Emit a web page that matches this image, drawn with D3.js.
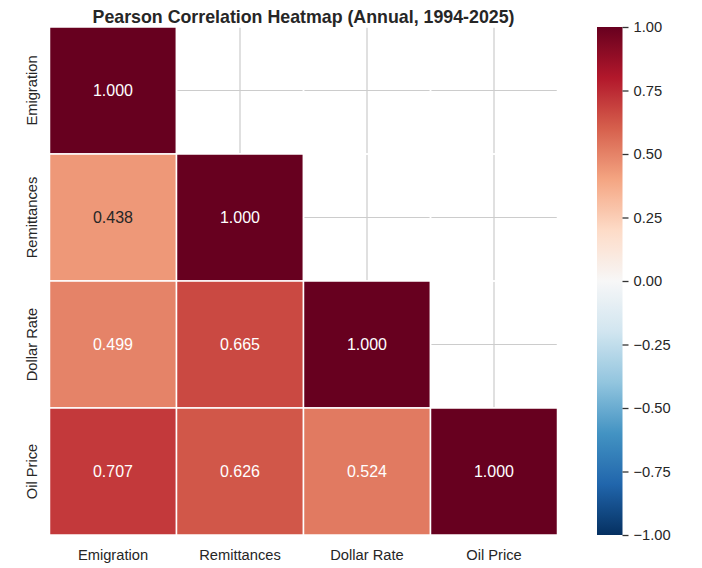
<!DOCTYPE html>
<html>
<head>
<meta charset="utf-8">
<script src="https://cdn.jsdelivr.net/npm/d3@7"></script>
<style>
  body { margin: 0; background: #fff; }
  svg { font-family: "Liberation Sans", Arial, sans-serif; }
</style>
</head>
<body>
<svg width="702" height="568"></svg>
<script>
// variables, in row/column order
const labels = ['Emigration', 'Remittances', 'Dollar Rate', 'Oil Price'];

// lower triangle of the correlation matrix, row by row
const rowEmigration = [1.000];
const rowRemittances = [0.438, 1.000];
const rowDollarRate = [0.499, 0.665, 1.000];
const rowOilPrice = [0.707, 0.626, 0.524, 1.000];

const colorbarTicks = [1.00, 0.75, 0.50, 0.25, 0.00, -0.25, -0.50, -0.75, -1.00];

// matplotlib RdBu_r stops
const rdbuStops = ['#053061', '#2166ac', '#4393c3', '#92c5de', '#d1e5f0', '#f7f7f7',
  '#fddbc7', '#f4a582', '#d6604d', '#b2182b', '#67001f'];

const rows = [rowEmigration, rowRemittances, rowDollarRate, rowOilPrice];
const cells = [];
labels.forEach((rowName, i) => {
  labels.forEach((colName, j) => {
    cells.push({ row: rowName, col: colName, value: j <= i ? rows[i][j] : null });
  });
});

const svg = d3.select('svg');
const marginLeft = 49.5, marginTop = 27, size = 508;
const labelSize = 14.7;

const color = d3.scaleLinear()
  .domain(d3.range(11).map(k => -1 + k * 0.2))
  .range(rdbuStops)
  .interpolate(d3.interpolateRgb);

const x = d3.scaleBand().domain(labels).range([0, size]);
const y = d3.scaleBand().domain(labels).range([0, size]);

const chart = svg.append('g').attr('transform', `translate(${marginLeft}, ${marginTop})`);

// grid lines (seaborn whitegrid) behind the cells
chart.append('g')
  .selectAll('line')
  .data(labels)
  .join('line')
  .attr('x1', d => x(d) + x.bandwidth() / 2)
  .attr('x2', d => x(d) + x.bandwidth() / 2)
  .attr('y1', 0).attr('y2', size)
  .attr('stroke', '#cccccc').attr('stroke-width', 1.2);
chart.append('g')
  .selectAll('line')
  .data(labels)
  .join('line')
  .attr('y1', d => y(d) + y.bandwidth() / 2)
  .attr('y2', d => y(d) + y.bandwidth() / 2)
  .attr('x1', 0).attr('x2', size)
  .attr('stroke', '#cccccc').attr('stroke-width', 1.2);

// cells; masked ones keep only their white edges
chart.append('g')
  .selectAll('rect')
  .data(cells)
  .join('rect')
  .attr('x', d => x(d.col))
  .attr('y', d => y(d.row))
  .attr('width', x.bandwidth())
  .attr('height', y.bandwidth())
  .attr('fill', d => d.value === null ? 'none' : color(d.value))
  .attr('stroke', '#fff')
  .attr('stroke-width', 1.5);

// annotation colour following seaborn's luminance rule
const luminance = c => {
  const rgb = d3.rgb(c);
  const lin = v => { v /= 255; return v <= 0.03928 ? v / 12.92 : Math.pow((v + 0.055) / 1.055, 2.4); };
  return 0.2126 * lin(rgb.r) + 0.7152 * lin(rgb.g) + 0.0722 * lin(rgb.b);
};

chart.append('g')
  .selectAll('text')
  .data(cells.filter(d => d.value !== null))
  .join('text')
  .attr('x', d => x(d.col) + x.bandwidth() / 2)
  .attr('y', d => y(d.row) + y.bandwidth() / 2)
  .attr('text-anchor', 'middle')
  .attr('dominant-baseline', 'central')
  .attr('font-size', 16)
  .attr('fill', d => luminance(color(d.value)) > 0.408 ? '#262626' : '#ffffff')
  .text(d => d.value.toFixed(3));

// axes labels (no tick marks)
const xAxis = chart.append('g')
  .attr('transform', `translate(0, ${size})`)
  .call(d3.axisBottom(x).tickSize(0).tickPadding(15));
const yAxis = chart.append('g')
  .call(d3.axisLeft(y).tickSize(0).tickPadding(0));
[xAxis, yAxis].forEach(a => {
  a.select('.domain').remove();
  a.selectAll('text').attr('font-size', labelSize).attr('fill', '#262626').attr('font-family', null);
});
yAxis.selectAll('text')
  .attr('transform', 'translate(-17, 0) rotate(-90)')
  .attr('text-anchor', 'middle')
  .attr('dy', '0.32em')
  .attr('x', 0);

// title
svg.append('text')
  .attr('x', marginLeft + size / 2)
  .attr('y', 22.5)
  .attr('text-anchor', 'middle')
  .attr('font-size', 17.8)
  .attr('font-weight', 'bold')
  .attr('fill', '#262626')
  .text('Pearson Correlation Heatmap (Annual, 1994-2025)');

// colorbar
const cbX = 597, cbW = 25.5;
const cbScale = d3.scaleLinear().domain([-1, 1]).range([size, 0]);
const defs = svg.append('defs');
const grad = defs.append('linearGradient')
  .attr('id', 'cbar')
  .attr('x1', 0).attr('y1', 1).attr('x2', 0).attr('y2', 0);
grad.selectAll('stop')
  .data(d3.range(0, 1.0001, 0.02))
  .join('stop')
  .attr('offset', d => d)
  .attr('stop-color', d => color(-1 + 2 * d));

const cbar = svg.append('g').attr('transform', `translate(${cbX}, ${marginTop})`);
cbar.append('rect')
  .attr('width', cbW)
  .attr('height', size)
  .attr('fill', 'url(#cbar)');

const cbAxis = cbar.append('g')
  .attr('transform', `translate(${cbW}, 0)`)
  .call(d3.axisRight(cbScale)
    .tickValues(colorbarTicks)
    .tickSize(6)
    .tickPadding(5)
    .tickFormat(d => d3.format('.2f')(d).replace('-', '\u2212')));
cbAxis.select('.domain').remove();
cbAxis.selectAll('line').attr('stroke', '#333').attr('stroke-width', 1.3);
cbAxis.selectAll('text').attr('font-size', labelSize).attr('fill', '#262626').attr('font-family', null);
</script>
</body>
</html>
